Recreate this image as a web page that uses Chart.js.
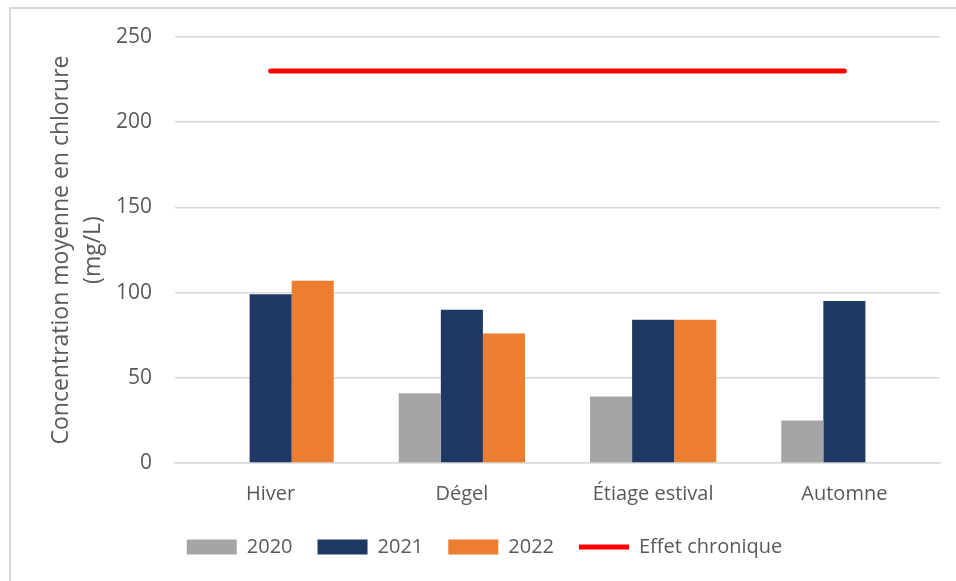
<!DOCTYPE html>
<html>
<head>
<meta charset="utf-8">
<script src="https://cdn.jsdelivr.net/npm/chart.js@4"></script>
<style>
    html, body { margin: 0; padding: 0; background: #fff; overflow: hidden; }
    #wrap { position: absolute; left: 0; top: 0; width: 956px; height: 581px; }
    #frame {
        position: absolute; left: 9px; top: 7px; width: 1000px; height: 1000px;
        border: 2px solid #d9d9d9; pointer-events: none;
    }
</style>
</head>
<body>
<div id="wrap"><canvas id="chart"></canvas></div>
<div id="frame"></div>
<script>
const seasons = ["Hiver", "Dégel", "Étiage estival", "Automne"];
const values2020 = [null, 41, 39, 25];
const values2021 = [99, 90, 84, 95];
const values2022 = [107, 76, 84, null];
const chronicEffect = [230, 230, 230, 230];
const yTicks = [0, 50, 100, 150, 200, 250];

const textColor = "#595959";
const fontFamily = "'Open Sans', sans-serif";

const barStyle = (color) => ({
    backgroundColor: color,
    borderWidth: 0,
    pointStyle: "rect",
    categoryPercentage: 0.66,
    barPercentage: 1,
});

// the legend sits a little left of the plot centre in the original
const legendShift = {
    id: "legendShift",
    afterLayout(chart) {
        chart.legend.left -= 8;
        chart.legend.right -= 8;
    },
};

new Chart(document.getElementById("chart"), {
    type: "bar",
    data: {
        labels: seasons,
        datasets: [
            { label: "2020", data: values2020, ...barStyle("#a5a5a5"), order: 2 },
            { label: "2021", data: values2021, ...barStyle("#203864"), order: 2 },
            { label: "2022", data: values2022, ...barStyle("#ed7d31"), order: 2 },
            {
                type: "line",
                label: "Effet chronique",
                data: chronicEffect,
                borderColor: "#ff0000",
                backgroundColor: "#ff0000",
                borderWidth: 5,
                borderCapStyle: "round",
                pointRadius: 0,
                pointStyle: "line",
                order: 1,
            },
        ],
    },
    plugins: [legendShift],
    options: {
        responsive: true,
        maintainAspectRatio: false,
        animation: false,
        layout: { padding: { left: 45, right: 16, top: 37, bottom: 14 } },
        plugins: {
            tooltip: { enabled: false },
            legend: {
                position: "bottom",
                labels: {
                    color: textColor,
                    font: { family: fontFamily, size: 20 },
                    usePointStyle: true,
                    pointStyleWidth: 50,
                    boxHeight: 15,
                    padding: 25,
                    sort: (a, b) => a.datasetIndex - b.datasetIndex,
                },
            },
        },
        scales: {
            x: {
                afterFit: (axis) => { axis.height = 49; },
                grid: { display: false, drawTicks: false },
                border: { color: "#d9d9d9", width: 1.5 },
                ticks: {
                    color: textColor,
                    font: { family: fontFamily, size: 20 },
                    padding: 19,
                },
            },
            y: {
                min: 0,
                max: 250,
                afterFit: (axis) => { axis.width = 130; },
                afterBuildTicks: (axis) => {
                    axis.ticks = yTicks.map((v) => ({ value: v }));
                },
                grid: { color: "#d9d9d9", lineWidth: 1.5, drawTicks: false },
                border: { display: false },
                ticks: {
                    color: textColor,
                    font: { family: fontFamily, size: 21 },
                    padding: 23,
                },
                title: {
                    display: true,
                    text: ["Concentration moyenne en chlorure", "(mg/L)"],
                    color: textColor,
                    font: { family: fontFamily, size: 23, lineHeight: 1.4 },
                    padding: { top: 0, bottom: 0 },
                },
            },
        },
    },
});
</script>
</body>
</html>
